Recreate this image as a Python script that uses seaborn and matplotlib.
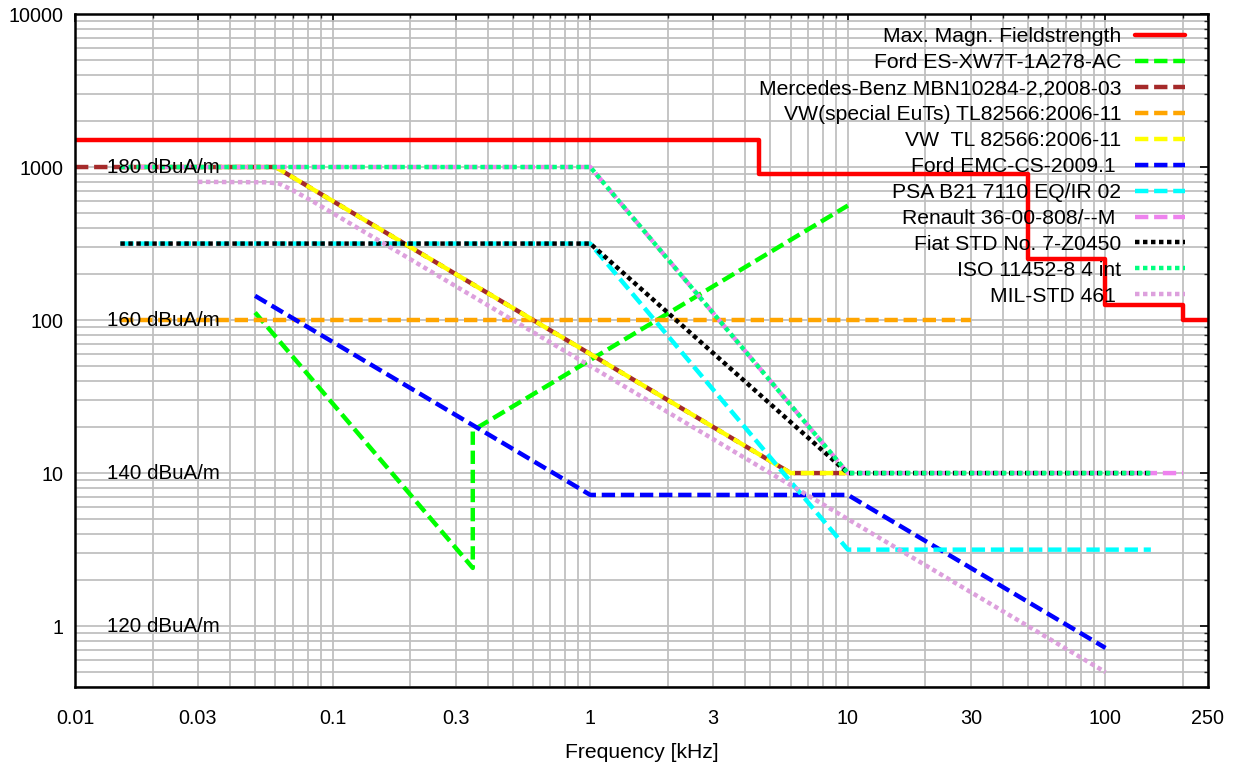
import numpy as np
import pandas as pd
import matplotlib
matplotlib.use("Agg")
import matplotlib.pyplot as plt
import seaborn as sns
from matplotlib.ticker import FixedLocator, FixedFormatter, LogLocator, NullFormatter

# limit curves (frequency in kHz, field strength in A/m)
max_x = [0.01, 4.5, 50, 100, 200, 250]
max_y = [1500, 900, 250, 125, 100, 100]

ford_x = [0.05, 0.35, 0.35, 10]
ford_y = [112, 2.4, 19, 560]

mb_x = [0.01, 0.06, 6, 10]
mb_y = [1000, 1000, 10, 10]

vw_special_x = [0.015, 30]
vw_special_y = [100, 100]

vw_x = [0.015, 0.06, 6, 10]
vw_y = [1000, 1000, 10, 10]

ford_emc_x = [0.05, 1, 10, 100]
ford_emc_y = [144, 7.2, 7.2, 0.72]

psa_x = [0.015, 1, 10, 150]
psa_y = [316, 316, 3.16, 3.16]

renault_x = [0.015, 1, 10, 200]
renault_y = [1000, 1000, 10, 10]

fiat_x = [0.015, 1, 10, 150]
fiat_y = [316, 316, 10, 10]

iso_x = [0.015, 1, 10, 150]
iso_y = [1000, 1000, 10, 10]

mil_x = [0.03, 0.055, 0.062, 0.07, 0.085, 0.1, 100]
mil_y = [800, 795, 780, 705, 588, 500, 0.5]

dbua_vals = [1000, 100, 10, 1]
dbua_text = ["180 dBuA/m", "160 dBuA/m", "140 dBuA/m", "120 dBuA/m"]

xtick_vals = [0.01, 0.03, 0.1, 0.3, 1, 3, 10, 30, 100, 250]
xtick_text = ["0.01", "0.03", "0.1", "0.3", "1", "3", "10", "30", "100", "250"]
ytick_vals = [1, 10, 100, 1000, 10000]
ytick_text = ["1", "10", "100", "1000", "10000"]

sns.set_theme(style="white")
plt.rcParams['font.family'] = ['Liberation Sans', 'DejaVu Sans']
plt.rcParams['text.color'] = 'black'

fig = plt.figure(figsize=(12.35, 7.67), dpi=100)
ax = fig.add_axes([75 / 1235, 1 - 687 / 767, (1208 - 75) / 1235, (687 - 14) / 767])

dash = (3, 1.3)
dot = (1, 0.8)
series = [
    ("Max. Magn. Fieldstrength", max_x, max_y, "#ff0000", None),
    ("Ford ES-XW7T-1A278-AC", ford_x, ford_y, "#00ff00", dash),
    ("Mercedes-Benz MBN10284-2,2008-03", mb_x, mb_y, "#a52a2a", dash),
    ("VW(special EuTs) TL82566:2006-11", vw_special_x, vw_special_y, "#ffa500", dash),
    ("VW  TL 82566:2006-11", vw_x, vw_y, "#ffff00", dash),
    ("Ford EMC-CS-2009.1 ", ford_emc_x, ford_emc_y, "#0000ff", dash),
    ("PSA B21 7110 EQ/IR 02", psa_x, psa_y, "#00ffff", dash),
    ("Renault 36-00-808/--M ", renault_x, renault_y, "#ee82ee", dash),
    ("Fiat STD No. 7-Z0450", fiat_x, fiat_y, "#000000", dot),
    ("ISO 11452-8 4 int", iso_x, iso_y, "#00ff7f", dot),
    ("MIL-STD 461 ", mil_x, mil_y, "#dda0dd", dot),
]

for label, xs, ys, color, dsh in series:
    if dsh is None:
        sns.lineplot(x=xs, y=ys, ax=ax, color=color, lw=3.2, label=label,
                     drawstyle="steps-post", sort=False, estimator=None)
    else:
        sns.lineplot(x=xs, y=ys, ax=ax, color=color, lw=3.2, label=label,
                     sort=False, estimator=None, dashes=False)
        ax.lines[-1].set_dashes(dsh)

ax.set_xscale("log")
ax.set_yscale("log")
ax.set_xlim(0.01, 250)
ax.set_ylim(0.4, 10000)

ax.xaxis.set_major_locator(FixedLocator(xtick_vals))
ax.xaxis.set_major_formatter(FixedFormatter(xtick_text))
ax.xaxis.set_minor_locator(LogLocator(base=10, subs=np.arange(2, 10)))
ax.xaxis.set_minor_formatter(NullFormatter())
ax.yaxis.set_major_locator(FixedLocator(ytick_vals))
ax.yaxis.set_major_formatter(FixedFormatter(ytick_text))
ax.yaxis.set_minor_locator(LogLocator(base=10, subs=np.arange(2, 10)))
ax.yaxis.set_minor_formatter(NullFormatter())

ax.grid(True, which="both", color="#c0c0c0", lw=1.3)
ax.set_axisbelow(True)
ax.tick_params(which="major", direction="in", length=6, width=1.2, labelsize=14.2,
               top=True, right=True, colors="black")
ax.tick_params(axis="x", which="major", pad=16)
ax.tick_params(axis="y", which="major", pad=8.5)
ax.tick_params(which="minor", direction="in", length=3, width=1, top=True, right=True)
for s in ax.spines.values():
    s.set_color("black")
    s.set_linewidth(1.8)

for v, t in zip(dbua_vals, dbua_text):
    ax.text(0.0133, v, t, fontsize=14.8, va="center", ha="left", color="black")

ax.set_xlabel("Frequency [kHz]", fontsize=15.2, labelpad=11, color="black")
ax.set_ylabel("")

leg = ax.legend(loc="upper right", bbox_to_anchor=(0.9868, 0.993), frameon=False,
                markerfirst=False, fontsize=15.2, handlelength=2.37,
                handletextpad=0.62, labelspacing=0.33, borderaxespad=0)
for h in leg.get_lines():
    h.set_linewidth(3.2)
for t in leg.get_texts():
    t.set_color("black")

fig.savefig("out.png", dpi=100)
